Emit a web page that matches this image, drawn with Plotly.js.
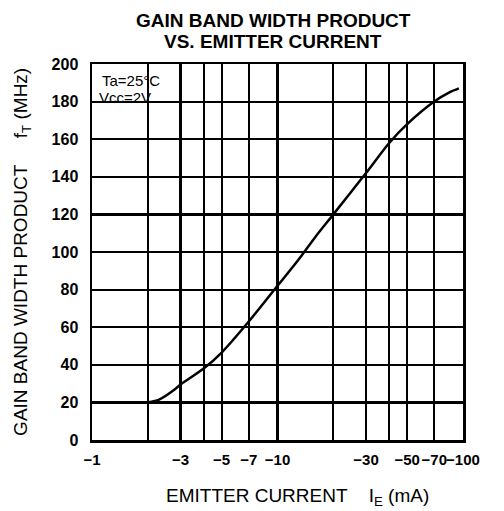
<!DOCTYPE html>
<html>
<head>
<meta charset="utf-8">
<script src="https://cdn.plot.ly/plotly-3.0.1.min.js"></script>
<style>html,body{margin:0;padding:0;background:#fff;}#chart{width:504px;height:511px;}</style>
</head>
<body>
<div id="chart"></div>
<script>
// Emitter current magnitude (mA) and gain bandwidth product fT (MHz)
const emitterCurrent = [2, 2.3, 2.8, 3, 4, 5, 7, 10, 13, 16, 20, 30, 40, 50, 70, 85, 95];
const gainBandwidth  = [20, 21.5, 27, 29.5, 38, 46.5, 63, 82, 96, 108, 120, 142, 158, 168, 180, 185, 187];

const xTickVals = [1, 2, 3, 4, 5, 7, 10, 20, 30, 40, 50, 70, 100];
const xTickText = ["\u22121", "", "\u22123", "", "\u22125", "\u22127", "\u221210", "", "\u221230", "", "\u221250", "\u221270", "\u2212100"];
const yTickVals = [0, 20, 40, 60, 80, 100, 120, 140, 160, 180, 200];
const yTickText = ["0", "20", "40", "60", "80", "100", "120", "140", "160", "180", "200"];

const FONT = "Liberation Sans, Arial, sans-serif";
const tickFont = {family: FONT, size: 15, color: "#000", weight: "bold"};

const trace = {
  x: emitterCurrent,
  y: gainBandwidth,
  type: "scatter",
  mode: "lines",
  line: {color: "#000", width: 2.5, shape: "spline", smoothing: 0.8},
  hoverinfo: "skip"
};

const layout = {
  width: 504,
  height: 511,
  margin: {l: 92, r: 41, t: 64, b: 71},
  paper_bgcolor: "#fff",
  plot_bgcolor: "#fff",
  showlegend: false,
  xaxis: {
    type: "log",
    range: [0, 2],
    tickmode: "array",
    tickvals: xTickVals,
    ticktext: xTickText,
    tickfont: tickFont,
    tickangle: 0,
    ticks: "",
    ticklabelstandoff: 4,
    showgrid: true,
    gridcolor: "#000",
    gridwidth: 2.2,
    showline: true,
    linecolor: "#000",
    linewidth: 2.5,
    mirror: true,
    zeroline: false,
    fixedrange: true
  },
  yaxis: {
    range: [0, 200],
    tickmode: "array",
    tickvals: yTickVals,
    ticktext: yTickText,
    tickfont: {family: FONT, size: 16, color: "#000", weight: "bold"},
    ticks: "",
    ticklabelstandoff: 8,
    showgrid: true,
    gridcolor: "#000",
    gridwidth: 2.2,
    showline: true,
    linecolor: "#000",
    linewidth: 2.5,
    mirror: true,
    zeroline: false,
    fixedrange: true
  },
  annotations: [
    {
      text: "<b>GAIN BAND WIDTH PRODUCT</b>",
      xref: "paper", yref: "paper",
      x: 0.488, y: 1.117, xanchor: "center", yanchor: "middle",
      showarrow: false,
      font: {family: FONT, size: 19, color: "#000"}
    },
    {
      text: "<b>VS. EMITTER CURRENT</b>",
      xref: "paper", yref: "paper",
      x: 0.488, y: 1.060, xanchor: "center", yanchor: "middle",
      showarrow: false,
      font: {family: FONT, size: 19, color: "#000"}
    },
    {
      text: "GAIN BAND WIDTH PRODUCT&nbsp;&nbsp;&nbsp;&nbsp;&nbsp;f<sub>T</sub> (MHz)",
      xref: "paper", yref: "paper",
      x: -0.189, y: 0.5, xanchor: "center", yanchor: "middle",
      textangle: -90,
      showarrow: false,
      font: {family: FONT, size: 19, color: "#000"}
    },
    {
      text: "EMITTER CURRENT&nbsp;&nbsp;&nbsp;&nbsp;I<sub>E</sub> (mA)",
      xref: "paper", yref: "paper",
      x: 0.554, y: -0.152, xanchor: "center", yanchor: "middle",
      showarrow: false,
      font: {family: FONT, size: 19, color: "#000"}
    },
    {
      text: "Ta=25\u00b0C",
      xref: "paper", yref: "paper",
      x: 0.022, y: 0.957, xanchor: "left", yanchor: "middle",
      showarrow: false,
      font: {family: FONT, size: 15, color: "#000"}
    },
    {
      text: "Vcc=2V",
      xref: "paper", yref: "paper",
      x: 0.014, y: 0.912, xanchor: "left", yanchor: "middle",
      showarrow: false,
      font: {family: FONT, size: 15, color: "#000"}
    }
  ]
};

Plotly.newPlot("chart", [trace], layout, {displayModeBar: false, staticPlot: true});
</script>
</body>
</html>
